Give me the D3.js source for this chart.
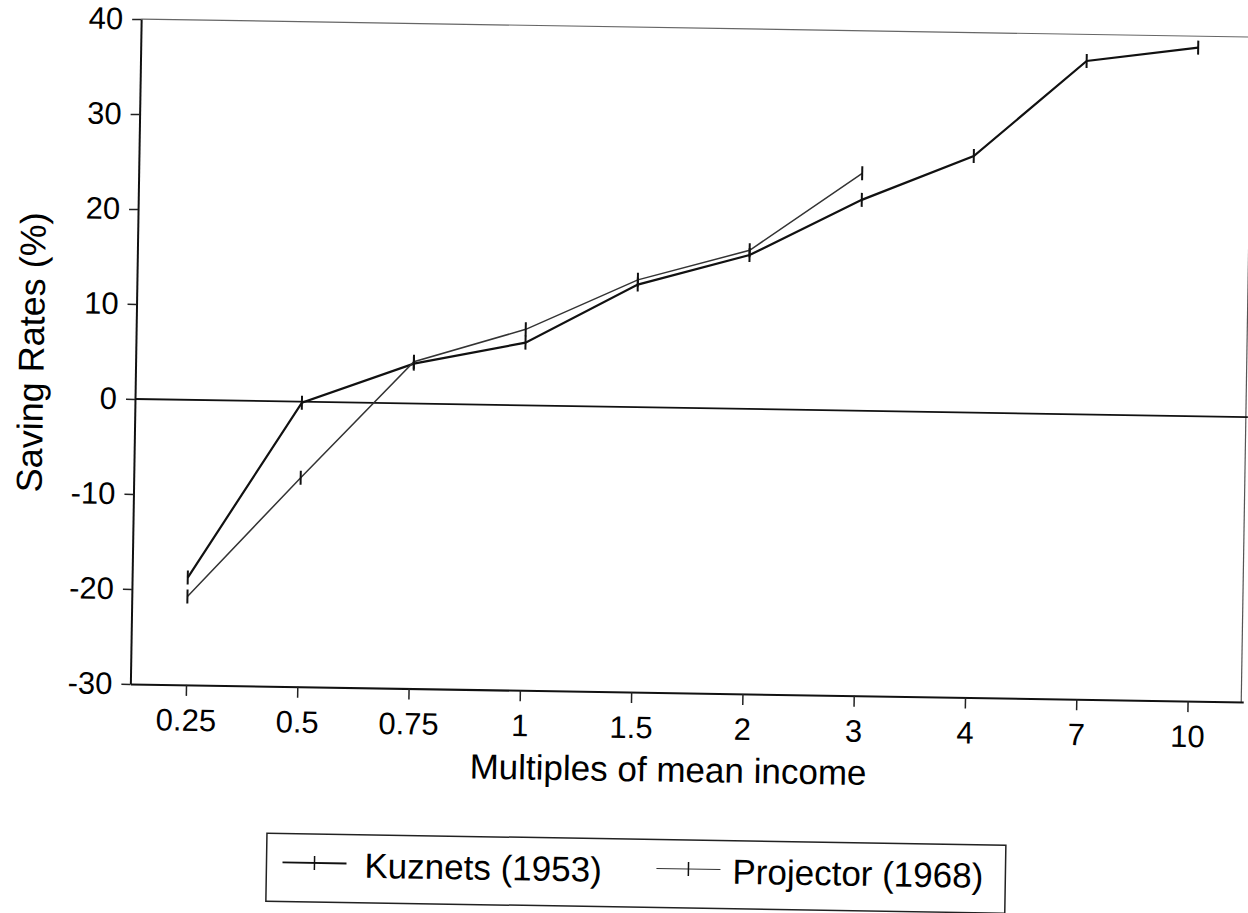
<!DOCTYPE html>
<html>
<head>
<meta charset="utf-8">
<script src="https://cdn.jsdelivr.net/npm/d3@7"></script>
<style>
  html, body { margin: 0; padding: 0; background: #fff; }
  svg { display: block; font-family: "Liberation Sans", Arial, sans-serif; }
</style>
</head>
<body>
<div id="chart"></div>
<script>
// values
const incomeMultiples = ["0.25", "0.5", "0.75", "1", "1.5", "2", "3", "4", "7", "10"];
const kuznets = [-18.7, -0.1, 4.2, 6.6, 12.9, 16.2, 22.2, 27.0, 37.2, 38.8];
const projector = [-20.7, -8.0, 4.4, 8.0, 13.4, 16.7, 25.0];
const yTicks = [-30, -20, -10, 0, 10, 20, 30, 40];
const seriesNames = ["Kuznets (1953)", "Projector (1968)"];

const width = 1248, height = 913;
const plotLeft = 135, plotRight = 1248, plotTop = 19, plotBottom = 684;
const tilt = 0.93; // the scan is slightly rotated

const svg = d3.select("#chart").append("svg")
  .attr("width", width).attr("height", height);

const g = svg.append("g").attr("transform", `rotate(${tilt},${plotLeft},399)`);

const x = d3.scalePoint().domain(incomeMultiples).range([plotLeft, plotRight]).padding(0.5);
const y = d3.scaleLinear().domain([-30, 40]).range([plotBottom, plotTop]);

// frame: thin top/right, heavy left/bottom
g.append("line").attr("x1", plotLeft).attr("x2", plotRight).attr("y1", plotTop).attr("y2", plotTop)
  .attr("stroke", "#666").attr("stroke-width", 1.2);
g.append("line").attr("x1", plotRight - 2).attr("x2", plotRight - 2).attr("y1", plotTop).attr("y2", plotBottom)
  .attr("stroke", "#555").attr("stroke-width", 1.2);

// zero line
g.append("line").attr("x1", plotLeft).attr("x2", plotRight).attr("y1", y(0)).attr("y2", y(0))
  .attr("stroke", "#111").attr("stroke-width", 1.8);

const yAxis = g.append("g").attr("transform", `translate(${plotLeft},0)`)
  .call(d3.axisLeft(y).tickValues(yTicks).tickFormat(d => String(d))
    .tickSize(9).tickSizeOuter(0).tickPadding(9));
const xAxis = g.append("g").attr("transform", `translate(0,${plotBottom})`)
  .call(d3.axisBottom(x).tickSize(11).tickSizeOuter(0).tickPadding(7));

[yAxis, xAxis].forEach(a => {
  a.select(".domain").attr("stroke", "#111").attr("stroke-width", 2);
  a.selectAll(".tick line").attr("stroke", "#222").attr("stroke-width", 1.5);
  a.selectAll("text").attr("fill", "#000").attr("font-size", "31px")
    .attr("font-family", "'Liberation Sans', Arial, sans-serif");
});
xAxis.selectAll("text").attr("dy", "0.9em");

// axis titles
g.append("text").attr("x", 674).attr("y", 773).attr("text-anchor", "middle")
  .attr("font-size", "35px").attr("fill", "#000").text("Multiples of mean income");
g.append("text").attr("transform", "translate(43,354) rotate(-90)").attr("text-anchor", "middle")
  .attr("font-size", "36px").attr("fill", "#000").text("Saving Rates (%)");

// series
const series = [
  { name: seriesNames[0], values: kuznets, color: "#111", w: 2.2 },
  { name: seriesNames[1], values: projector, color: "#333", w: 1.5 }
];

const line = d3.line().x((d, i) => x(incomeMultiples[i])).y(d => y(d));

series.forEach(s => {
  g.append("path").datum(s.values).attr("d", line)
    .attr("fill", "none").attr("stroke", s.color).attr("stroke-width", s.w);
  g.append("g").selectAll("line").data(s.values).join("line")
    .attr("x1", (d, i) => x(incomeMultiples[i])).attr("x2", (d, i) => x(incomeMultiples[i]))
    .attr("y1", d => y(d) - 7).attr("y2", d => y(d) + 7)
    .attr("stroke", "#111").attr("stroke-width", 2);
});

// legend
const legend = g.append("g");
legend.append("rect").attr("x", 274).attr("y", 831).attr("width", 739).attr("height", 68)
  .attr("fill", "none").attr("stroke", "#222").attr("stroke-width", 1.5);

const legendItems = [
  { x0: 290, tx: 372, s: series[0] },
  { x0: 664, tx: 740, s: series[1] }
];
legendItems.forEach(it => {
  legend.append("line").attr("x1", it.x0).attr("x2", it.x0 + 64).attr("y1", 860).attr("y2", 860)
    .attr("stroke", it.s.color).attr("stroke-width", it.s.w - 0.4);
  legend.append("line").attr("x1", it.x0 + 32).attr("x2", it.x0 + 32).attr("y1", 853).attr("y2", 867)
    .attr("stroke", "#111").attr("stroke-width", 1.5);
  legend.append("text").attr("x", it.tx).attr("y", 874)
    .attr("font-size", "35px").attr("fill", "#000").text(it.s.name);
});
</script>
</body>
</html>
